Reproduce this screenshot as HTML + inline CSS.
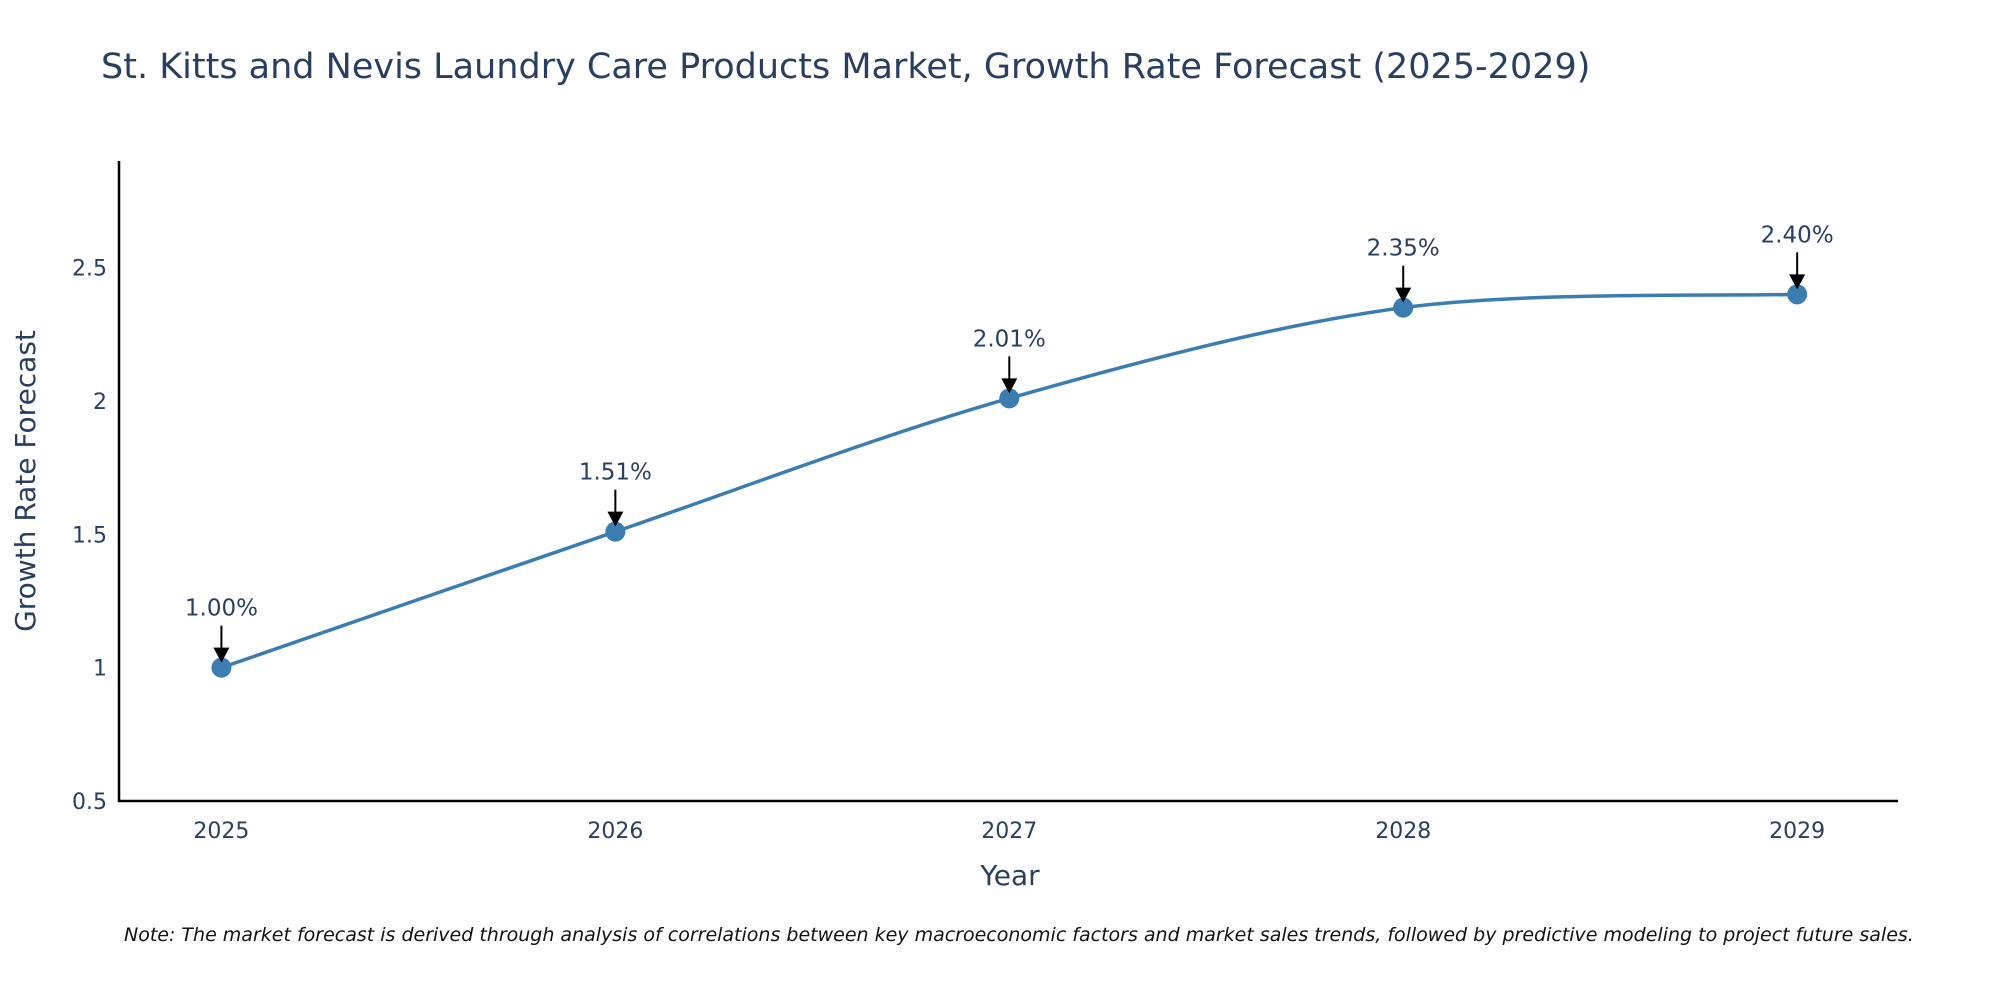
<!DOCTYPE html>
<html><head><meta charset="utf-8">
<style>
html,body{margin:0;padding:0;background:#fff;width:2000px;height:1000px;overflow:hidden;font-family:"DejaVu Sans",sans-serif;}
svg text{font-family:"DejaVu Sans",sans-serif;}
</style></head>
<body>
<svg id="chart" width="2000" height="1000" xmlns="http://www.w3.org/2000/svg">
<text x="101" y="78" font-size="35" fill="#2a3f5f">St. Kitts and Nevis Laundry Care Products Market, Growth Rate Forecast (2025-2029)</text>
<g id="ticks"></g>
<line x1="119" y1="161" x2="119" y2="802" stroke="#000" stroke-width="2.5"/>
<line x1="118" y1="801" x2="1898" y2="801" stroke="#000" stroke-width="2.5"/>
<path id="series" fill="none" stroke="#3b7db0" stroke-width="3.5"/>
<g id="marks"></g>
<text transform="translate(35,481) rotate(-90)" text-anchor="middle" font-size="28" fill="#2a3f5f">Growth Rate Forecast</text>
<text x="1010" y="885" text-anchor="middle" font-size="28" fill="#2a3f5f">Year</text>
<text x="124" y="941" font-size="19" font-style="italic" fill="#111">Note: The market forecast is derived through analysis of correlations between key macroeconomic factors and market sales trends, followed by predictive modeling to project future sales.</text>
</svg>
<script>
const years=[2025,2026,2027,2028,2029];
const values=[1.00,1.51,2.01,2.35,2.40];
const yTicks=[0.5,1,1.5,2,2.5];
const yTickLabels=["0.5","1","1.5","2","2.5"];
const xMin=2024.74,xMax=2029.256,yMin=0.5,yMax=2.9;
const L=119,R=1898,T=161,B=801;
function sx(v){return L+(v-xMin)/(xMax-xMin)*(R-L);}
function sy(v){return B-(v-yMin)/(yMax-yMin)*(B-T);}
const NS="http://www.w3.org/2000/svg";
const tg=document.getElementById('ticks');
yTicks.forEach((t,i)=>{
  const tx=document.createElementNS(NS,'text');
  
  
  tx.setAttribute('x',L-12);tx.setAttribute('y',sy(t)+8);
  tx.setAttribute('text-anchor','end');tx.setAttribute('font-size','22');tx.setAttribute('fill','#2a3f5f');
  tx.textContent=yTickLabels[i];tg.appendChild(tx);
});
years.forEach(y=>{
  const tx=document.createElementNS(NS,'text');
  
  
  tx.setAttribute('x',sx(y));tx.setAttribute('y',B+37);
  tx.setAttribute('text-anchor','middle');tx.setAttribute('font-size','22');tx.setAttribute('fill','#2a3f5f');
  tx.textContent=String(y);tg.appendChild(tx);
});
const pts=years.map((y,i)=>[sx(y),sy(values[i])]);
let d='M'+pts[0][0]+','+pts[0][1];
const k=0.16;
for(let i=0;i<pts.length-1;i++){
  const p0=pts[Math.max(0,i-1)],p1=pts[i],p2=pts[i+1],p3=pts[Math.min(pts.length-1,i+2)];
  const c1=[p1[0]+(p2[0]-p0[0])*k,p1[1]+(p2[1]-p0[1])*k];
  const c2=[p2[0]-(p3[0]-p1[0])*k,p2[1]-(p3[1]-p1[1])*k];
  d+=' C'+c1[0]+','+c1[1]+' '+c2[0]+','+c2[1]+' '+p2[0]+','+p2[1];
}
document.getElementById('series').setAttribute('d',d);
const mg=document.getElementById('marks');
pts.forEach((p,i)=>{
  const c=document.createElementNS(NS,'circle');
  
  
  c.setAttribute('cx',p[0]);c.setAttribute('cy',p[1]);c.setAttribute('r','10');c.setAttribute('fill','#3b7db0');
  mg.appendChild(c);
  const ln=document.createElementNS(NS,'line');
  
  
  ln.setAttribute('x1',p[0]);ln.setAttribute('y1',p[1]-42);ln.setAttribute('x2',p[0]);ln.setAttribute('y2',p[1]-16);
  ln.setAttribute('stroke','#000');ln.setAttribute('stroke-width','2');
  mg.appendChild(ln);
  const ah=document.createElementNS(NS,'polygon');
  
  
  ah.setAttribute('points',(p[0]-8)+','+(p[1]-20)+' '+(p[0]+8)+','+(p[1]-20)+' '+p[0]+','+(p[1]-5));
  ah.setAttribute('fill','#000');
  mg.appendChild(ah);
  const tx=document.createElementNS(NS,'text');
  
  
  tx.setAttribute('x',p[0]);tx.setAttribute('y',p[1]-52);
  tx.setAttribute('text-anchor','middle');tx.setAttribute('font-size','23');tx.setAttribute('fill','#2a3f5f');
  tx.textContent=values[i].toFixed(2)+'%';
  mg.appendChild(tx);
});
</script>
</body></html>
